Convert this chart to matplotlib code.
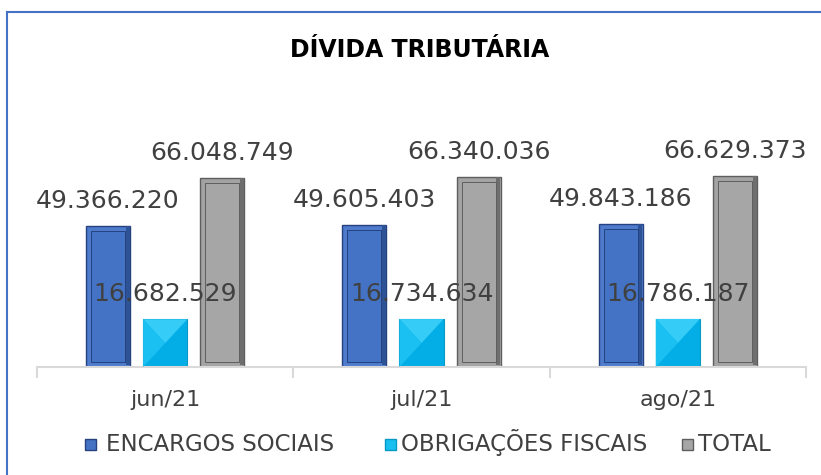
import matplotlib
matplotlib.use("Agg")
import matplotlib.pyplot as plt
import numpy as np
from matplotlib.patches import Rectangle
from matplotlib.lines import Line2D

categories = ["jun/21", "jul/21", "ago/21"]
series = ["ENCARGOS SOCIAIS", "OBRIGAÇÕES FISCAIS", "TOTAL"]
encargos = [49366220, 49605403, 49843186]
obrigacoes = [16682529, 16734634, 16786187]
total = [66048749, 66340036, 66629373]
labels_enc = ["49.366.220", "49.605.403", "49.843.186"]
labels_obr = ["16.682.529", "16.734.634", "16.786.187"]
labels_tot = ["66.048.749", "66.340.036", "66.629.373"]

W, H = 821, 475
fig = plt.figure(figsize=(W / 100, H / 100), dpi=100)
fig.patch.set_facecolor("white")

def fx(x):
    return x / W

def fy(y):
    return 1 - y / H

ax_left, ax_right, ax_top, ax_bot = 37, 806, 100, 367
ax = fig.add_axes([fx(ax_left), fy(ax_bot), (ax_right - ax_left) / W, (ax_bot - ax_top) / H])
ax.set_xlim(-0.5, 2.5)
ymax = 93.3e6
ax.set_ylim(0, ymax)
for s in ["top", "right", "left"]:
    ax.spines[s].set_visible(False)
ax.spines["bottom"].set_color("#D9D9D9")
ax.spines["bottom"].set_linewidth(1.5)
ax.set_yticks([])
ax.set_xticks([-0.5, 0.5, 1.5, 2.5])
ax.set_xticklabels([])
ax.tick_params(axis="x", length=8, width=1.5, color="#D9D9D9")
ax.patch.set_alpha(0)

x = np.arange(len(categories))
off = 0.223
bw = 0.172
px_x = (ax_right - ax_left) / 3.0  # px per data unit
px_y = (ax_bot - ax_top) / ymax
dx = 5 / px_x
dy = 5 / px_y

def bevel_bars(xs, vals, dark, bevel, right, face):
    vals = np.array(vals, dtype=float)
    ax.bar(xs, vals, width=bw, color=bevel, edgecolor=dark, linewidth=1.0, zorder=2)
    ax.bar(xs + bw / 2 - dx / 2, vals - dy / 2, bottom=dy / 2, width=dx * 0.8,
           color=right, linewidth=0, zorder=3)
    ax.bar(xs, vals - 2 * dy, bottom=dy, width=bw - 2 * dx, color=face,
           edgecolor=dark, linewidth=0.7, zorder=4)

bevel_bars(x - off, encargos, "#24427E", "#4E7BCC", "#2E5296", "#4472C4")
bevel_bars(x + off, total, "#5E5E5E", "#A3A3A3", "#6E6E6E", "#A6A6A6")

# pyramid-style cyan bars
xc = x + 0.0
ax.bar(xc, obrigacoes, width=bw, color="#03AEE6", edgecolor="#0898C6", linewidth=0.8, zorder=2)
for xi, v in zip(xc, obrigacoes):
    l, r = xi - bw / 2, xi + bw / 2
    mid = v / 2
    ax.fill([l, r, xi], [v, v, mid], color="#35CDF7", zorder=3, linewidth=0)
    ax.fill([l, xi, l], [v, mid, 0], color="#1BC0F2", zorder=3, linewidth=0)

tcolor = "#404040"
for xs, vals, labs in [(x - off, encargos, labels_enc), (xc, obrigacoes, labels_obr), (x + off, total, labels_tot)]:
    for xi, v, lab in zip(xs, vals, labs):
        ax.annotate(lab, (xi, v), xytext=(0, 25), textcoords="offset pixels",
                    ha="center", va="center", fontsize=18, color=tcolor, zorder=6)

for xi, c in zip(x, categories):
    ax.annotate(c, (xi, 0), xytext=(0, -39), textcoords="offset pixels",
                ha="center", va="baseline", fontsize=16, color=tcolor)

fig.text(fx(420), fy(50), "DÍVIDA TRIBUTÁRIA", ha="center", va="center",
         fontsize=17, fontweight="bold", color="black")

# legend
leg = [(85, "#4472C4", "#24427E", series[0], 106),
       (385, "#19BFF0", "#0898C6", series[1], 401),
       (682, "#A6A6A6", "#5E5E5E", series[2], 698)]
for mx, fc, ec, txt, tx in leg:
    fig.add_artist(Rectangle((fx(mx), fy(450)), 11 / W, 11 / H, transform=fig.transFigure,
                             facecolor=fc, edgecolor=ec, linewidth=1))
    fig.text(fx(tx), fy(451), txt, ha="left", va="baseline", fontsize=16.5, color=tcolor)

# border
fig.add_artist(Line2D([fx(7), 1], [fy(12), fy(12)], transform=fig.transFigure, color="#4472C4", lw=1.5))
fig.add_artist(Line2D([fx(7), fx(7)], [fy(12), 0], transform=fig.transFigure, color="#4472C4", lw=1.5))

fig.savefig("out.png", dpi=100)
